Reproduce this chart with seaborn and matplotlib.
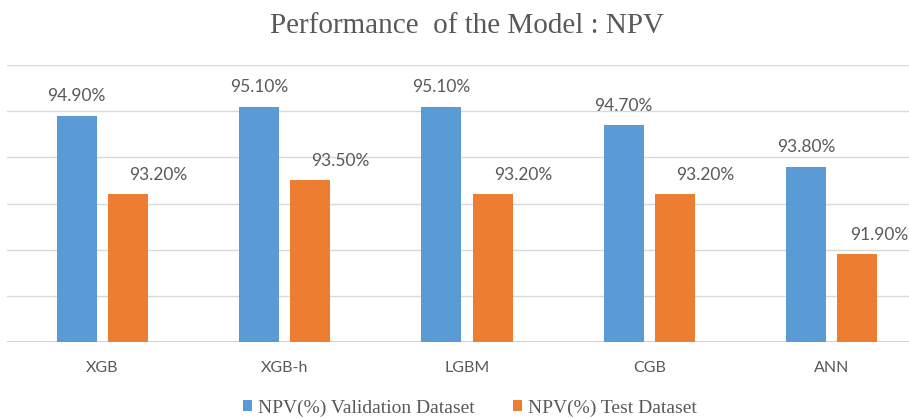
import matplotlib
matplotlib.use("Agg")
import matplotlib.pyplot as plt
import seaborn as sns
import pandas as pd
from matplotlib.patches import Patch

models = ["XGB", "XGB-h", "LGBM", "CGB", "ANN"]
validation = [94.9, 95.1, 95.1, 94.7, 93.8]
test = [93.2, 93.5, 93.2, 93.2, 91.9]
series = ["NPV(%) Validation Dataset", "NPV(%) Test Dataset"]
colors = ["#5B9BD5", "#ED7D31"]
title = "Performance  of the Model : NPV"

df = pd.DataFrame({
    "Model": models * 2,
    "Series": [series[0]] * len(models) + [series[1]] * len(models),
    "NPV": validation + test,
})

sns.set_theme(style="white")
TXT = "#595959"
W, H = 909, 419

fig = plt.figure(figsize=(W / 100, H / 100), dpi=100)
ax = fig.add_axes([7 / W, 77 / H, 902 / W, 277 / H])
sns.barplot(data=df, x="Model", y="NPV", hue="Series", palette=colors,
            width=0.5625, gap=0.22, saturation=1, linewidth=0,
            ax=ax, legend=False)

ax.set_ylim(90, 96)
ax.set_xlim(-(102.2 - 7) / 182.4, 4 + (909 - 831.7) / 182.4)
ax.set_yticks(range(90, 97))
ax.set_yticklabels([])
ax.yaxis.grid(True, color="#D9D9D9", linewidth=1)
ax.set_axisbelow(True)
ax.axhline(90, color="#C8C8C8", linewidth=1.2, zorder=0.5)
for s in ax.spines.values():
    s.set_visible(False)
ax.set_xlabel("")
ax.set_ylabel("")
ax.tick_params(axis="x", length=0, pad=14, labelsize=11.5, labelcolor=TXT)
ax.tick_params(axis="y", length=0)
for lbl in ax.get_xticklabels():
    lbl.set_family("Lato")

# data labels
texts = []
for ci, cont in enumerate(ax.containers):
    vals = validation if ci == 0 else test
    dx = 0 if ci == 0 else 22
    for bar, v in zip(cont, vals):
        x = bar.get_x() + bar.get_width() / 2
        t = ax.annotate(f"{v:.2f}%", xy=(x, v), xytext=(dx, 14),
                        textcoords="offset points", ha="center", va="center",
                        fontsize=12.5, color=TXT, family="Lato",
                        annotation_clip=False)
        texts.append((t, dx))

fig.text(467 / W, 1 - 33 / H, title, ha="center", va="baseline",
         family="Liberation Serif", fontsize=21, color=TXT)

handles = [Patch(facecolor=c, edgecolor="none") for c in colors]
fig.legend(handles, series, loc="center", bbox_to_anchor=(470 / W, 1 - 408 / H),
           ncol=2, frameon=False, prop={"family": "Liberation Serif", "size": 14},
           labelcolor=TXT, handlelength=0.45, handleheight=0.45,
           handletextpad=0.3, columnspacing=2.0)

# keep labels inside the figure
fig.canvas.draw()
r = fig.canvas.get_renderer()
for t, dx in texts:
    bb = t.get_window_extent(r)
    over = bb.x1 - (W - 1)
    if over > 0:
        t.set_position((dx - over * 72 / 100, 14))

fig.savefig("out.png", dpi=100)
